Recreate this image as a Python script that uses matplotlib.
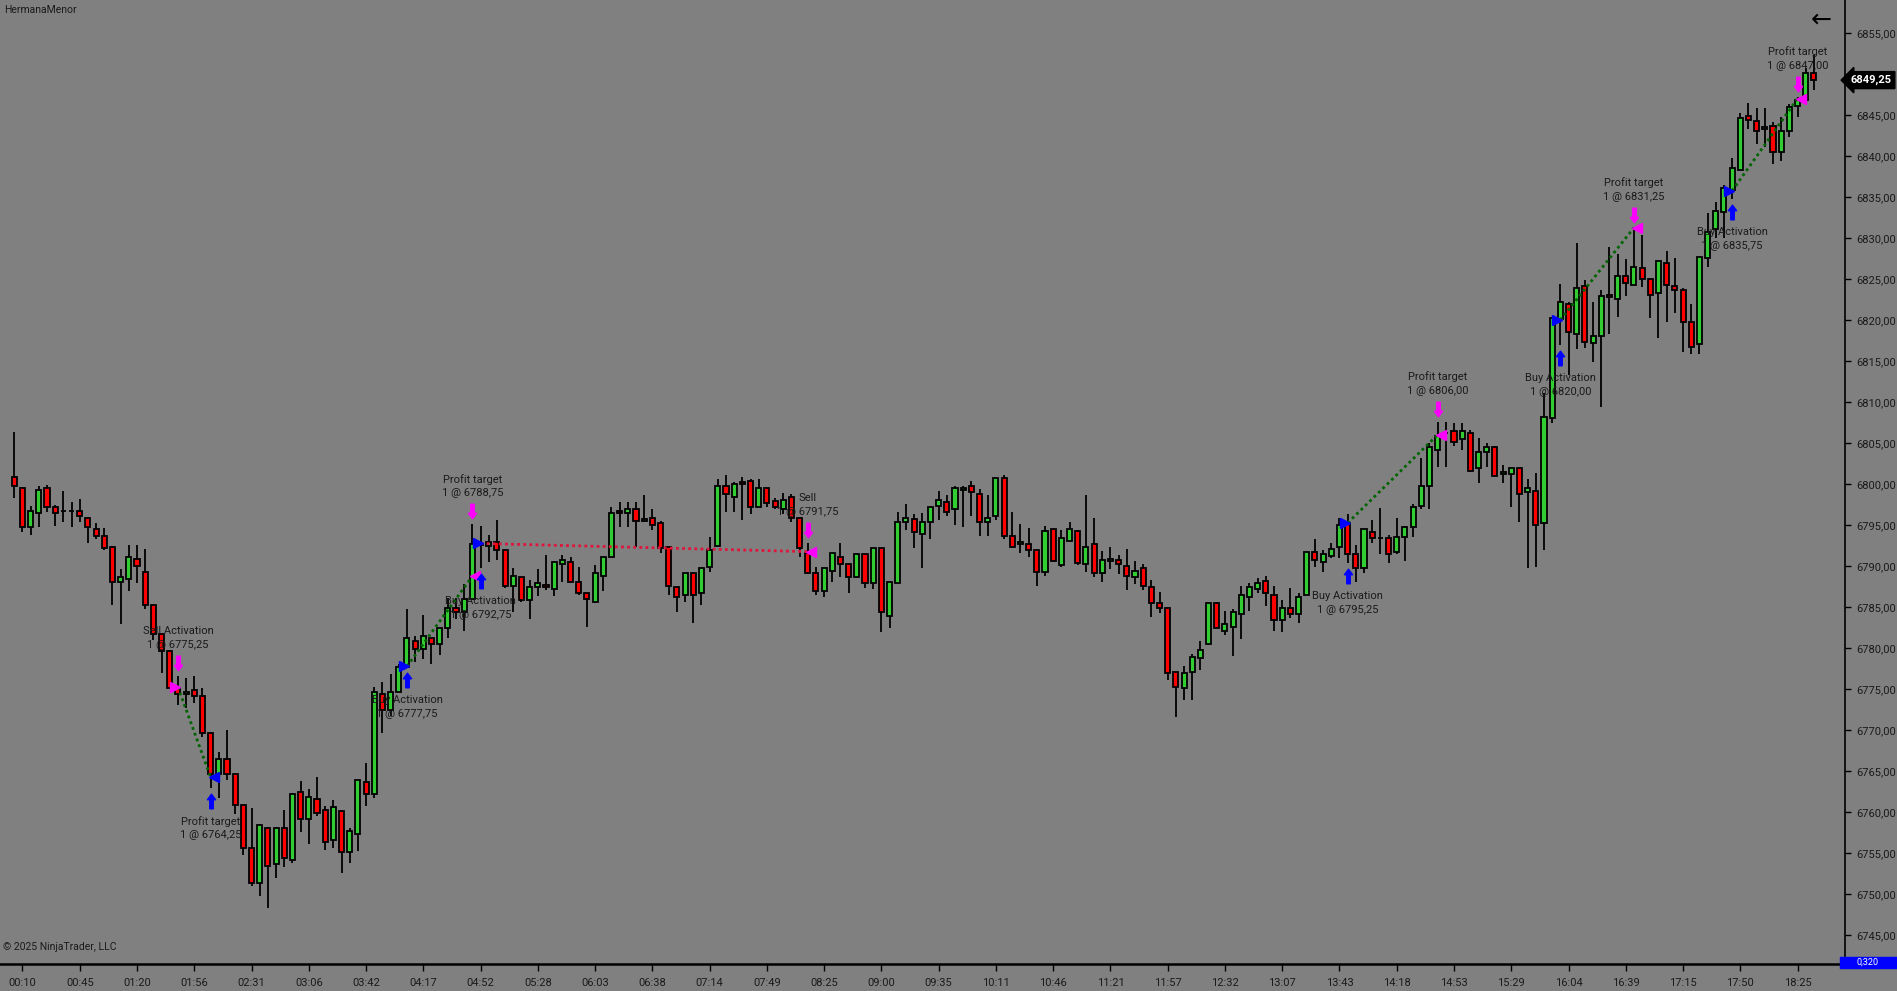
import numpy as np
import matplotlib.pyplot as plt
from matplotlib.path import Path
from matplotlib.patches import Rectangle
from matplotlib.transforms import ScaledTranslation, blended_transform_factory

plt.rcParams['font.family'] = ['Roboto', 'DejaVu Sans']

# OHLC (one bar per row index)
opens = [6800.9, 6799.5, 6794.7, 6796.4, 6799.5, 6797.15, 6796.7, 6796.7, 6796.7, 6795.9,
         6794.5, 6793.6, 6792.35, 6788.1, 6788.4, 6790.9, 6789.3, 6785.2, 6781.7, 6779.6,
         6775.1, 6774.35, 6774.9, 6774.1, 6769.6, 6764.6, 6766.5, 6764.6, 6760.8, 6755.6,
         6751.3, 6758.1, 6753.6, 6758.1, 6754.15, 6762.4, 6759.1, 6761.55, 6760.3, 6756.6,
         6760.1, 6755.1, 6757.3, 6763.6, 6762.15, 6774.35, 6772.45, 6774.6, 6777.65, 6780.9,
         6779.85, 6781.2, 6780.45, 6782.4, 6784.85, 6784.35, 6785.95, 6792.6, 6792.45, 6792.9,
         6791.95, 6787.6, 6788.6, 6785.9, 6787.4, 6787.65, 6787.15, 6790.2, 6790.45, 6788.1,
         6786.65, 6785.65, 6788.8, 6791.15, 6796.7, 6796.4, 6796.9, 6795.5, 6795.9, 6795.2,
         6792.35, 6787.4, 6786.45, 6789.1, 6786.65, 6789.9, 6792.45, 6799.8, 6798.4, 6800.2,
         6800.4, 6797.15, 6799.5, 6797.9, 6796.9, 6798.4, 6795.9, 6791.6, 6789.1, 6786.95,
         6789.4, 6791.15, 6790.2, 6788.6, 6791.4, 6787.9, 6792.15, 6783.9, 6787.9, 6795.4,
         6795.7, 6793.9, 6795.4, 6797.35, 6797.85, 6796.9, 6799.3, 6799.7, 6798.75, 6795.4,
         6796.15, 6800.7, 6793.6, 6792.65, 6792.65, 6791.95, 6789.3, 6794.5, 6790.1, 6793.1,
         6794.3, 6790.2, 6792.65, 6789.1, 6790.65, 6790.7, 6790.0, 6788.6, 6789.7, 6787.4,
         6785.45, 6784.85, 6777.1, 6775.1, 6777.1, 6778.8, 6780.45, 6785.45, 6782.1, 6782.6,
         6784.1, 6786.2, 6787.15, 6788.2, 6786.4, 6783.4, 6784.85, 6784.1, 6786.4, 6791.65,
         6790.45, 6791.2, 6792.35, 6795.2, 6791.4, 6789.7, 6794.2, 6793.4, 6793.35, 6791.65,
         6793.55, 6794.7, 6797.35, 6799.7, 6804.2, 6806.2, 6806.4, 6805.45, 6806.2, 6801.9,
         6803.95, 6804.45, 6801.2, 6801.2, 6801.9, 6799.0, 6799.2, 6795.2, 6808.0, 6820.1,
         6822.0, 6818.25, 6824.1, 6817.25, 6818.05, 6823.05, 6822.55, 6825.4, 6824.3, 6826.3,
         6824.95, 6823.25, 6827.0, 6824.15, 6823.7, 6819.7, 6817.05, 6827.5, 6831.05, 6833.2,
         6835.8, 6838.3, 6844.85, 6844.3, 6843.3, 6843.7, 6840.5, 6843.05, 6846.1, 6846.8,
         6850.1]
highs = [6806.3, 6799.6, 6797.3, 6799.7, 6799.9, 6797.4, 6799.1, 6797.8, 6798.2, 6796.0,
         6795.3, 6794.6, 6792.4, 6789.6, 6792.5, 6792.5, 6792.1, 6785.3, 6781.7, 6779.7,
         6776.6, 6776.3, 6776.6, 6775.1, 6769.7, 6767.3, 6770.0, 6764.6, 6760.8, 6760.45,
         6758.5, 6758.2, 6758.2, 6760.25, 6762.35, 6763.8, 6762.8, 6764.3, 6760.7, 6761.45,
         6760.25, 6758.0, 6763.9, 6766.0, 6775.2, 6775.8, 6776.8, 6778.05, 6784.75, 6781.5,
         6784.0, 6781.2, 6782.4, 6786.15, 6786.15, 6787.75, 6795.1, 6794.9, 6793.8, 6795.6,
         6791.95, 6789.7, 6788.6, 6788.3, 6789.6, 6791.3, 6790.6, 6791.35, 6791.05, 6789.85,
         6786.65, 6790.1, 6791.15, 6797.2, 6797.8, 6797.8, 6797.8, 6798.7, 6797.0, 6795.5,
         6792.35, 6787.4, 6789.1, 6789.1, 6789.7, 6793.5, 6800.6, 6801.1, 6800.3, 6800.9,
         6800.6, 6800.6, 6799.5, 6798.25, 6798.85, 6798.75, 6795.9, 6792.75, 6789.9, 6789.7,
         6791.6, 6792.75, 6790.2, 6791.55, 6791.4, 6792.15, 6792.15, 6788.1, 6796.55, 6797.6,
         6796.35, 6796.4, 6797.15, 6799.1, 6798.65, 6799.7, 6799.7, 6800.4, 6799.35, 6798.65,
         6800.7, 6801.1, 6796.55, 6795.1, 6794.6, 6791.95, 6794.9, 6794.5, 6794.4, 6795.4,
         6794.4, 6798.65, 6795.8, 6791.8, 6792.3, 6791.35, 6792.1, 6790.6, 6790.3, 6788.3,
         6786.8, 6784.85, 6777.1, 6777.8, 6779.3, 6780.85, 6785.45, 6785.6, 6784.5, 6784.75,
         6787.6, 6787.9, 6788.5, 6788.8, 6787.5, 6785.8, 6787.3, 6786.65, 6791.65, 6793.25,
         6792.0, 6792.75, 6795.8, 6796.35, 6792.55, 6794.45, 6795.6, 6797.1, 6793.75, 6795.9,
         6794.9, 6797.55, 6803.2, 6804.95, 6807.6, 6807.6, 6807.4, 6807.4, 6806.6, 6805.55,
         6805.05, 6804.65, 6802.3, 6801.9, 6801.9, 6800.6, 6801.3, 6811.05, 6820.2, 6824.35,
         6822.15, 6829.4, 6824.85, 6822.15, 6823.65, 6828.95, 6828.1, 6827.4, 6831.25, 6830.35,
         6824.95, 6827.2, 6828.4, 6827.5, 6823.85, 6821.95, 6827.7, 6833.1, 6834.4, 6836.45,
         6839.7, 6845.2, 6846.4, 6845.9, 6845.9, 6844.2, 6844.7, 6846.3, 6847.2, 6850.7,
         6852.3]
lows = [6798.3, 6794.2, 6793.8, 6794.7, 6796.6, 6794.9, 6795.4, 6794.7, 6795.4, 6792.8,
        6793.3, 6791.9, 6785.2, 6782.9, 6786.9, 6787.9, 6784.8, 6781.0, 6776.9, 6775.1,
        6773.1, 6772.7, 6773.3, 6769.1, 6762.9, 6761.7, 6763.9, 6759.8, 6754.8, 6751.0,
        6749.8, 6748.25, 6752.0, 6753.3, 6753.8, 6757.6, 6756.05, 6759.55, 6755.4, 6755.6,
        6752.5, 6753.8, 6755.25, 6760.75, 6761.75, 6769.6, 6771.75, 6774.6, 6777.65, 6778.3,
        6778.65, 6778.1, 6779.1, 6781.2, 6783.55, 6782.1, 6785.95, 6789.7, 6790.45, 6790.7,
        6787.35, 6784.35, 6785.65, 6783.5, 6786.35, 6787.1, 6786.35, 6788.0, 6788.1, 6786.45,
        6782.6, 6785.45, 6786.9, 6791.15, 6794.7, 6794.7, 6792.35, 6795.4, 6794.4, 6791.6,
        6786.4, 6784.35, 6785.65, 6783.1, 6785.2, 6789.3, 6792.45, 6796.6, 6796.6, 6795.6,
        6796.35, 6797.15, 6797.15, 6796.9, 6796.3, 6795.4, 6791.15, 6789.0, 6786.4, 6786.2,
        6788.1, 6788.6, 6786.65, 6788.5, 6787.35, 6787.15, 6781.9, 6782.4, 6787.9, 6794.4,
        6792.15, 6789.7, 6793.3, 6795.6, 6796.1, 6795.0, 6794.7, 6796.15, 6793.6, 6793.6,
        6795.6, 6793.3, 6792.35, 6791.6, 6791.15, 6787.6, 6788.8, 6790.65, 6789.9, 6793.1,
        6790.1, 6789.3, 6788.6, 6788.1, 6789.6, 6789.0, 6787.1, 6787.8, 6787.1, 6783.8,
        6784.3, 6776.1, 6771.6, 6773.6, 6773.6, 6777.3, 6780.45, 6782.4, 6781.6, 6779.0,
        6781.1, 6784.55, 6786.65, 6785.15, 6782.1, 6781.9, 6783.6, 6783.1, 6786.4, 6789.9,
        6789.3, 6790.95, 6790.95, 6790.4, 6788.1, 6789.1, 6792.85, 6791.4, 6790.4, 6791.45,
        6790.65, 6793.55, 6796.95, 6796.9, 6802.1, 6802.1, 6804.65, 6804.2, 6801.4, 6800.15,
        6802.1, 6800.95, 6800.15, 6797.15, 6795.4, 6789.7, 6789.9, 6791.9, 6807.4, 6816.95,
        6813.3, 6816.4, 6816.6, 6814.9, 6809.4, 6818.25, 6820.4, 6822.95, 6824.3, 6824.0,
        6820.2, 6817.75, 6819.7, 6820.9, 6816.1, 6815.9, 6815.9, 6826.5, 6829.95, 6829.95,
        6834.7, 6838.3, 6843.25, 6841.5, 6841.1, 6839.0, 6839.4, 6842.3, 6844.8, 6846.8,
        6848.0]
closes = [6799.7, 6794.7, 6796.7, 6799.3, 6797.15, 6796.4, 6796.7, 6796.7, 6796.1, 6794.7,
          6793.65, 6792.15, 6788.1, 6788.6, 6791.1, 6790.0, 6785.2, 6781.7, 6779.6, 6775.1,
          6774.35, 6774.6, 6774.1, 6769.6, 6764.6, 6766.5, 6764.6, 6760.8, 6755.6, 6751.3,
          6758.4, 6753.4, 6758.1, 6754.35, 6762.2, 6759.1, 6761.8, 6759.85, 6756.3, 6760.6,
          6755.1, 6757.7, 6763.9, 6762.15, 6774.6, 6772.45, 6774.6, 6777.65, 6781.2, 6779.85,
          6781.4, 6780.45, 6782.4, 6784.85, 6784.35, 6785.95, 6792.65, 6792.7, 6792.9, 6791.95,
          6787.55, 6788.8, 6785.9, 6787.4, 6787.9, 6787.4, 6790.45, 6790.7, 6788.1, 6786.65,
          6785.95, 6789.1, 6791.15, 6796.4, 6796.4, 6796.9, 6795.5, 6795.7, 6795.0, 6792.15,
          6787.6, 6786.2, 6789.1, 6786.45, 6789.7, 6791.95, 6799.7, 6798.75, 6800.0, 6799.95,
          6797.15, 6799.5, 6797.65, 6797.15, 6798.1, 6795.9, 6792.15, 6789.1, 6786.95, 6789.7,
          6791.6, 6790.2, 6788.6, 6791.4, 6787.9, 6792.15, 6784.35, 6788.1, 6795.4, 6795.9,
          6794.2, 6795.4, 6797.15, 6798.1, 6796.6, 6799.5, 6799.5, 6799.0, 6795.4, 6795.9,
          6800.7, 6793.6, 6792.35, 6792.9, 6791.9, 6789.3, 6794.3, 6790.65, 6793.4, 6794.5,
          6790.4, 6792.35, 6789.1, 6790.7, 6790.9, 6790.2, 6788.8, 6789.4, 6787.6, 6785.45,
          6784.85, 6776.9, 6775.3, 6776.9, 6778.9, 6779.8, 6785.45, 6782.4, 6782.9, 6784.35,
          6786.5, 6787.4, 6787.9, 6786.65, 6783.4, 6784.85, 6784.1, 6786.2, 6791.65, 6790.7,
          6791.4, 6792.05, 6795.0, 6791.4, 6789.7, 6794.45, 6793.35, 6793.4, 6791.4, 6793.55,
          6794.7, 6797.15, 6799.7, 6804.45, 6805.9, 6806.2, 6805.15, 6806.4, 6801.6, 6803.95,
          6804.45, 6800.95, 6801.4, 6801.9, 6798.75, 6799.45, 6795.0, 6808.2, 6820.2, 6822.2,
          6818.5, 6823.95, 6817.3, 6818.05, 6822.95, 6822.75, 6825.4, 6824.5, 6826.5, 6825.0,
          6823.05, 6827.2, 6824.3, 6823.7, 6819.7, 6816.65, 6827.7, 6830.75, 6833.3, 6836.05,
          6838.5, 6844.6, 6844.4, 6843.05, 6843.55, 6840.5, 6843.05, 6846.0, 6846.8, 6850.1,
          6849.25]

time_labels = ['00:10', '00:45', '01:20', '01:56', '02:31', '03:06', '03:42', '04:17',
               '04:52', '05:28', '06:03', '06:38', '07:14', '07:49', '08:25', '09:00',
               '09:35', '10:11', '10:46', '11:21', '11:57', '12:32', '13:07', '13:43',
               '14:18', '14:53', '15:29', '16:04', '16:39', '17:15', '17:50', '18:25']
label_first_bar = 1
label_every = 7

entry_bar = [20, 48, 57, 163, 189, 210]
entry_price = [6775.25, 6777.75, 6792.75, 6795.25, 6820.00, 6835.75]
entry_side = ['sell', 'buy', 'buy', 'buy', 'buy', 'buy']
entry_name = ['Sell Activation', 'Buy Activation', 'Buy Activation',
              'Buy Activation', 'Buy Activation', 'Buy Activation']
exit_bar = [24, 56, 97, 174, 198, 218]
exit_price = [6764.25, 6788.75, 6791.75, 6806.00, 6831.25, 6847.00]
exit_name = ['Profit target', 'Profit target', 'Sell',
             'Profit target', 'Profit target', 'Profit target']

last_price = closes[-1]

BG = '#808080'
UP = '#32cd32'
DOWN = '#ff0000'
BUYC = '#0000ff'
SELLC = '#ff00ff'
TXT = '#1a1a1a'

W, H = 1897, 991
fig = plt.figure(figsize=(W / 100, H / 100), dpi=100, facecolor=BG)
ax = fig.add_axes([0, 27 / H, 1845 / W, 964 / H])
ax.set_facecolor(BG)

o = np.array(opens)
hi = np.array(highs)
lo = np.array(lows)
c = np.array(closes)
x = np.arange(len(o))

ax.vlines(x, lo, hi, color='black', lw=1.3, zorder=2)
body_bottom = np.minimum(o, c)
body_h = np.maximum(np.abs(c - o), 0.06)
colors = np.where(c >= o, UP, DOWN)
ax.bar(x, body_h, bottom=body_bottom, width=0.62, color=colors,
       edgecolor='black', linewidth=1.3, zorder=3)

ax.set_xlim(-1.75, 223.8)
ax.set_ylim(6741.46, 6859.02)


def px(dx, dy):
    return ax.transData + ScaledTranslation(dx / 100, dy / 100, fig.dpi_scale_trans)


up_arrow = Path([(0, 0.5), (0.28, 0.12), (0.12, 0.12), (0.12, -0.5),
                 (-0.12, -0.5), (-0.12, 0.12), (-0.28, 0.12), (0, 0.5)], closed=True)
down_arrow = Path([(vx, -vy) for vx, vy in up_arrow.vertices], closed=True)


def fmt(v):
    return f'{v:.2f}'.replace('.', ',')


def mark(bar, price, side, name, is_entry):
    col = BUYC if side == 'buy' else SELLC
    if side == 'buy':
        ax.plot(bar, lo[bar], marker=up_arrow, ms=10.5, color=col, mec=col,
                ls='none', transform=px(0, -13), zorder=6)
        ax.text(bar, lo[bar], name, ha='center', va='center', fontsize=8,
                color=TXT, transform=px(0, -33), zorder=7)
        ax.text(bar, lo[bar], '1 @ ' + fmt(price), ha='center', va='center',
                fontsize=8, color=TXT, transform=px(0, -47), zorder=7)
    else:
        ax.plot(bar, hi[bar], marker=down_arrow, ms=10.5, color=col, mec=col,
                ls='none', transform=px(0, 13), zorder=6)
        ax.text(bar, hi[bar], name, ha='center', va='center', fontsize=8,
                color=TXT, transform=px(0, 45), zorder=7)
        ax.text(bar, hi[bar], '1 @ ' + fmt(price), ha='center', va='center',
                fontsize=8, color=TXT, transform=px(0, 31), zorder=7)
    if is_entry:
        ax.plot(bar, price, marker='>', ms=6.5, color=col, mec=col, ls='none',
                transform=px(-3, 0), zorder=6)
    else:
        ax.plot(bar, price, marker='<', ms=6.5, color=col, mec=col, ls='none',
                transform=px(3, 0), zorder=6)


for i in range(len(entry_bar)):
    side = entry_side[i]
    exit_side = 'sell' if side == 'buy' else 'buy'
    gain = (exit_price[i] - entry_price[i]) * (1 if side == 'buy' else -1)
    lc = '#006400' if gain > 0 else '#e0143c'
    ax.plot([entry_bar[i], exit_bar[i]], [entry_price[i], exit_price[i]],
            color=lc, lw=2, ls=(0, (1, 1.2)), zorder=5)
    mark(entry_bar[i], entry_price[i], side, entry_name[i], True)
    mark(exit_bar[i], exit_price[i], exit_side, exit_name[i], False)

# axes styling
for s in ['top', 'left']:
    ax.spines[s].set_visible(False)
ax.spines['right'].set_linewidth(1.2)
ax.spines['bottom'].set_linewidth(1.8)

ax.yaxis.tick_right()
yt = np.arange(6745, 6856, 5)
ax.set_yticks(yt)
# the price tag hides the label nearest the last price
ax.set_yticklabels(['' if abs(v - last_price) < 2.5 else fmt(v) for v in yt])
ax.tick_params(axis='y', direction='out', length=4, width=1, pad=4,
               labelsize=8, labelcolor=TXT)

xt = [label_first_bar + label_every * k for k in range(len(time_labels))]
ax.set_xticks(xt)
ax.set_xticklabels(time_labels)
ax.tick_params(axis='x', direction='out', length=5, width=1, pad=5,
               labelsize=8, labelcolor=TXT)

# current price tag
tr = blended_transform_factory(fig.transFigure, ax.transData)
ax.text(1871 / W, last_price, fmt(last_price), transform=tr, ha='center',
        va='center', fontsize=8, color='white', fontweight='bold', zorder=10,
        bbox=dict(boxstyle='larrow,pad=0.3', fc='black', ec='black'), clip_on=False)

# bottom-right blue box
fig.patches.append(Rectangle((1840 / W, 1 - 968 / H), 57 / W, 11 / H,
                             transform=fig.transFigure, color='#0000ff', zorder=10))
fig.text(1868 / W, 1 - 962.5 / H, '0,320', ha='center', va='center', fontsize=6.5,
         color='white', zorder=11)

fig.text(4 / W, 1 - 10 / H, 'HermanaMenor', ha='left', va='center',
         fontsize=7.5, color=TXT)
fig.text(3 / W, 1 - 947 / H, '\u00a9 2025 NinjaTrader, LLC', ha='left', va='center',
         fontsize=7.5, color=TXT)
fig.text(1821 / W, 1 - 20 / H, '\u2190', ha='center', va='center',
         fontsize=18, color='black', family='DejaVu Sans')

fig.savefig('out.png', dpi=100, facecolor=BG)
